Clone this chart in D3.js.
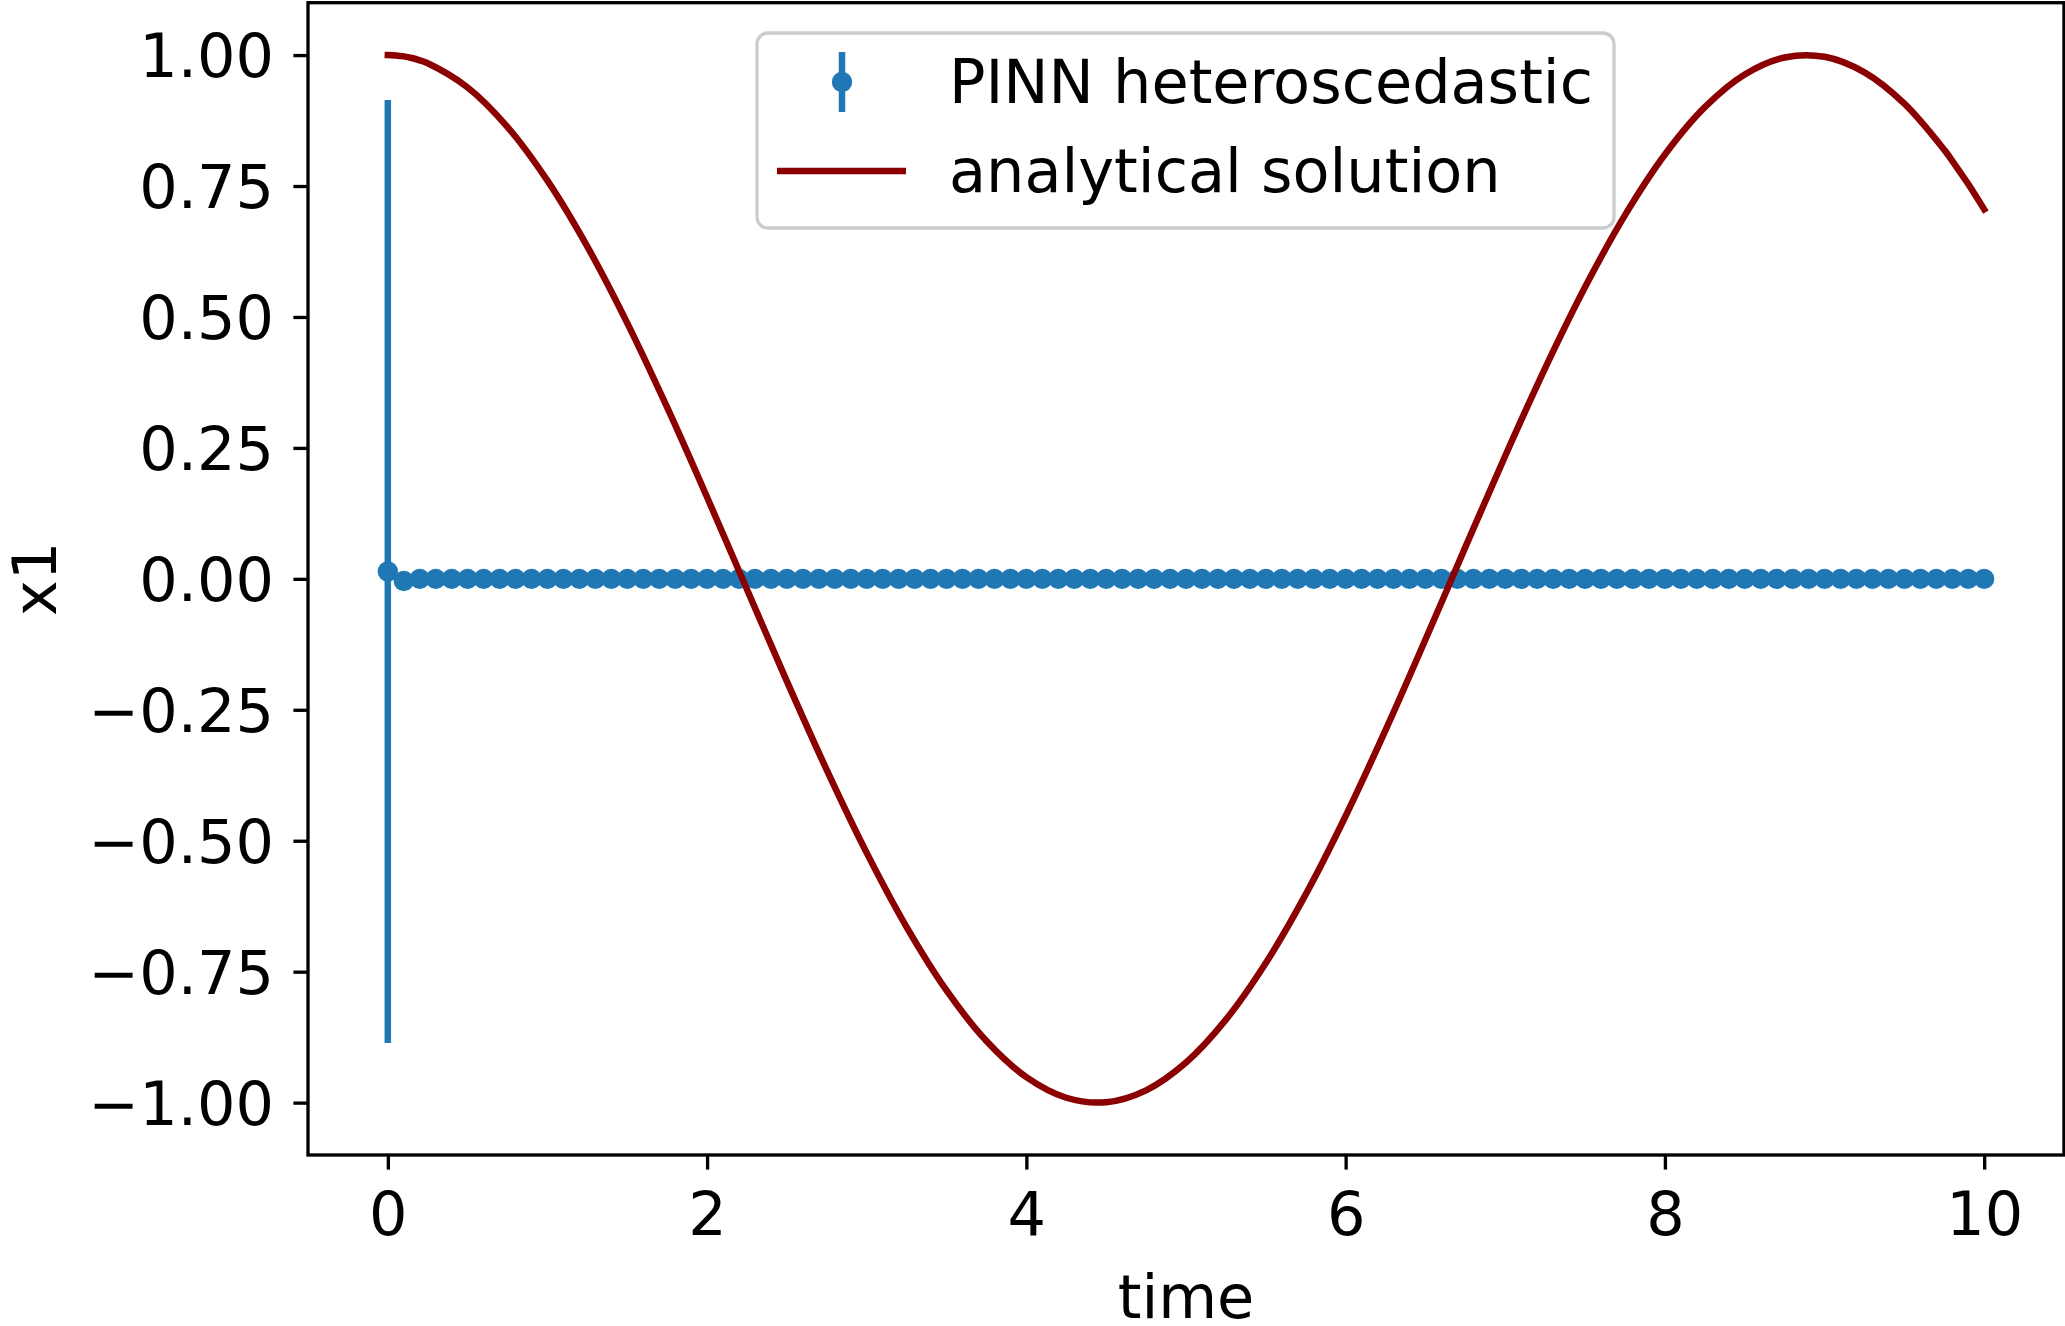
<!DOCTYPE html>
<html>
<head>
<meta charset="utf-8">
<script src="https://cdn.jsdelivr.net/npm/d3@7"></script>
<style>
  html, body { margin: 0; padding: 0; background: #ffffff; }
  svg { display: block; }
  text { font-family: "DejaVu Sans", sans-serif; fill: #000; }
</style>
</head>
<body>
<svg id="chart" width="2065" height="1326"></svg>
<script>
// PINN prediction: sample times, predicted mean and one-sigma error
const pinnTime = [
  0.0, 0.1, 0.2, 0.3, 0.4, 0.5, 0.6, 0.7, 0.8, 0.9,
  1.0, 1.1, 1.2, 1.3, 1.4, 1.5, 1.6, 1.7, 1.8, 1.9,
  2.0, 2.1, 2.2, 2.3, 2.4, 2.5, 2.6, 2.7, 2.8, 2.9,
  3.0, 3.1, 3.2, 3.3, 3.4, 3.5, 3.6, 3.7, 3.8, 3.9,
  4.0, 4.1, 4.2, 4.3, 4.4, 4.5, 4.6, 4.7, 4.8, 4.9,
  5.0, 5.1, 5.2, 5.3, 5.4, 5.5, 5.6, 5.7, 5.8, 5.9,
  6.0, 6.1, 6.2, 6.3, 6.4, 6.5, 6.6, 6.7, 6.8, 6.9,
  7.0, 7.1, 7.2, 7.3, 7.4, 7.5, 7.6, 7.7, 7.8, 7.9,
  8.0, 8.1, 8.2, 8.3, 8.4, 8.5, 8.6, 8.7, 8.8, 8.9,
  9.0, 9.1, 9.2, 9.3, 9.4, 9.5, 9.6, 9.7, 9.8, 9.9,
  10.0
];
const pinnMean = [
  0.014, -0.004, 0.000, 0.000, 0.000, 0.000, 0.000, 0.000, 0.000, 0.000,
  0.000, 0.000, 0.000, 0.000, 0.000, 0.000, 0.000, 0.000, 0.000, 0.000,
  0.000, 0.000, 0.000, 0.000, 0.000, 0.000, 0.000, 0.000, 0.000, 0.000,
  0.000, 0.000, 0.000, 0.000, 0.000, 0.000, 0.000, 0.000, 0.000, 0.000,
  0.000, 0.000, 0.000, 0.000, 0.000, 0.000, 0.000, 0.000, 0.000, 0.000,
  0.000, 0.000, 0.000, 0.000, 0.000, 0.000, 0.000, 0.000, 0.000, 0.000,
  0.000, 0.000, 0.000, 0.000, 0.000, 0.000, 0.000, 0.000, 0.000, 0.000,
  0.000, 0.000, 0.000, 0.000, 0.000, 0.000, 0.000, 0.000, 0.000, 0.000,
  0.000, 0.000, 0.000, 0.000, 0.000, 0.000, 0.000, 0.000, 0.000, 0.000,
  0.000, 0.000, 0.000, 0.000, 0.000, 0.000, 0.000, 0.000, 0.000, 0.000,
  0.000
];
const pinnErr = [
  0.900, 0.006, 0.003, 0.003, 0.003, 0.003, 0.003, 0.003, 0.003, 0.003,
  0.003, 0.003, 0.003, 0.003, 0.003, 0.003, 0.003, 0.003, 0.003, 0.003,
  0.003, 0.003, 0.003, 0.003, 0.003, 0.003, 0.003, 0.003, 0.003, 0.003,
  0.003, 0.003, 0.003, 0.003, 0.003, 0.003, 0.003, 0.003, 0.003, 0.003,
  0.003, 0.003, 0.003, 0.003, 0.003, 0.003, 0.003, 0.003, 0.003, 0.003,
  0.003, 0.003, 0.003, 0.003, 0.003, 0.003, 0.003, 0.003, 0.003, 0.003,
  0.003, 0.003, 0.003, 0.003, 0.003, 0.003, 0.003, 0.003, 0.003, 0.003,
  0.003, 0.003, 0.003, 0.003, 0.003, 0.003, 0.003, 0.003, 0.003, 0.003,
  0.003, 0.003, 0.003, 0.003, 0.003, 0.003, 0.003, 0.003, 0.003, 0.003,
  0.003, 0.003, 0.003, 0.003, 0.003, 0.003, 0.003, 0.003, 0.003, 0.003,
  0.003
];

// Analytical solution of x1 over time
const solTime = [
  0.00, 0.05, 0.10, 0.15, 0.20, 0.25, 0.50, 0.75, 1.00, 1.25,
  1.50, 1.75, 2.00, 2.25, 2.50, 2.75, 3.00, 3.25, 3.50, 3.75,
  4.00, 4.25, 4.50, 4.75, 5.00, 5.25, 5.50, 5.75, 6.00, 6.25,
  6.50, 6.75, 7.00, 7.25, 7.50, 7.75, 8.00, 8.25, 8.50, 8.75,
  9.00, 9.25, 9.50, 9.75, 9.80, 9.90, 10.00
];
const solX1 = [
  1.0000, 0.9994, 0.9975, 0.9944, 0.9900, 0.9844, 0.9382, 0.8626, 0.7602, 0.6342,
  0.4883, 0.3272, 0.1559, -0.0202, -0.1957, -0.3651, -0.5232, -0.6649, -0.7859, -0.8824,
  -0.9514, -0.9907, -0.9992, -0.9765, -0.9234, -0.8415, -0.7334, -0.6024, -0.4527, -0.2888,
  -0.1159, 0.0605, 0.2351, 0.4024, 0.5571, 0.6945, 0.8102, 0.9006, 0.9630, 0.9954,
  0.9967, 0.9670, 0.9072, 0.8190, 0.7982, 0.7537, 0.7054
];

// Axis ticks and labels
const xTicks = [0, 2, 4, 6, 8, 10];
const yTicks = [-1.0, -0.75, -0.5, -0.25, 0.0, 0.25, 0.5, 0.75, 1.0];
const xLabel = "time";
const yLabel = "x1";
const legendLabels = ["PINN heteroscedastic", "analytical solution"];

const blue = "#1f77b4";
const red = "#8b0000";
const fontSize = 60.5;

const svg = d3.select("#chart");
const W = 2065, H = 1326;
const plot = { left: 308, right: 2064, top: 2.7, bottom: 1155 };

const x = d3.scaleLinear().domain([-0.5, 10.5]).range([plot.left, plot.right]);
const y = d3.scaleLinear().domain([-1.1, 1.1]).range([plot.bottom, plot.top]);

svg.append("rect").attr("width", W).attr("height", H).attr("fill", "#fff");

// clip region for plot contents
svg.append("defs").append("clipPath").attr("id", "plotClip")
  .append("rect")
  .attr("x", plot.left).attr("y", plot.top)
  .attr("width", plot.right - plot.left).attr("height", plot.bottom - plot.top);

const content = svg.append("g").attr("clip-path", "url(#plotClip)");

const pinn = pinnTime.map((t, i) => ({ t, m: pinnMean[i], e: pinnErr[i] }));

// error bars
content.append("g").selectAll("line").data(pinn).join("line")
  .attr("x1", d => x(d.t)).attr("x2", d => x(d.t))
  .attr("y1", d => y(d.m - d.e)).attr("y2", d => y(d.m + d.e))
  .attr("stroke", blue).attr("stroke-width", 6.5);

// markers
content.append("g").selectAll("circle").data(pinn).join("circle")
  .attr("cx", d => x(d.t)).attr("cy", d => y(d.m))
  .attr("r", 10.2).attr("fill", blue);

// analytical curve
const sol = solTime.map((t, i) => ({ t, v: solX1[i] }));
content.append("path").datum(sol)
  .attr("d", d3.line().x(d => x(d.t)).y(d => y(d.v)).curve(d3.curveCatmullRom.alpha(0.5)))
  .attr("fill", "none").attr("stroke", red).attr("stroke-width", 6.5)
  .attr("stroke-linecap", "square").attr("stroke-linejoin", "round");

// axes
const xAxis = d3.axisBottom(x).tickValues(xTicks).tickFormat(d3.format("d"))
  .tickSizeInner(14.6).tickSizeOuter(0).tickPadding(22);
const gx = svg.append("g").attr("transform", `translate(0,${plot.bottom})`).call(xAxis);
gx.select(".domain").remove();
gx.selectAll(".tick line").attr("stroke", "#000").attr("stroke-width", 3.33);
gx.selectAll(".tick text").attr("font-size", fontSize).attr("fill", "#000")
  .attr("font-family", "DejaVu Sans").attr("dy", "0.71em");

const yAxis = d3.axisLeft(y).tickValues(yTicks).tickFormat(d3.format(".2f"))
  .tickSizeInner(14.6).tickSizeOuter(0).tickPadding(19.4);
const gy = svg.append("g").attr("transform", `translate(${plot.left},0)`).call(yAxis);
gy.select(".domain").remove();
gy.selectAll(".tick line").attr("stroke", "#000").attr("stroke-width", 3.33);
gy.selectAll(".tick text").attr("font-size", fontSize).attr("fill", "#000")
  .attr("font-family", "DejaVu Sans").attr("dy", "0.36em");

// frame
svg.append("rect")
  .attr("x", plot.left).attr("y", plot.top)
  .attr("width", plot.right - plot.left).attr("height", plot.bottom - plot.top)
  .attr("fill", "none").attr("stroke", "#000").attr("stroke-width", 3.33)
  .attr("stroke-linejoin", "miter");

// axis labels
svg.append("text").attr("x", (plot.left + plot.right) / 2).attr("y", 1318)
  .attr("text-anchor", "middle").attr("font-size", fontSize).text(xLabel);
svg.append("text")
  .attr("transform", `translate(56,${(plot.top + plot.bottom) / 2}) rotate(-90)`)
  .attr("text-anchor", "middle").attr("font-size", fontSize).text(yLabel);

// legend
const lg = svg.append("g");
lg.append("rect")
  .attr("x", 757).attr("y", 33).attr("width", 857).attr("height", 195)
  .attr("rx", 11).attr("ry", 11)
  .attr("fill", "#fff").attr("fill-opacity", 0.8)
  .attr("stroke", "#cccccc").attr("stroke-width", 3.33);

// errorbar entry
lg.append("line").attr("x1", 842).attr("x2", 842).attr("y1", 52).attr("y2", 112)
  .attr("stroke", blue).attr("stroke-width", 6.5);
lg.append("circle").attr("cx", 842).attr("cy", 82).attr("r", 10.2).attr("fill", blue);
lg.append("text").attr("x", 949).attr("y", 103).attr("font-size", fontSize).text(legendLabels[0]);

// line entry
lg.append("line").attr("x1", 777).attr("x2", 906).attr("y1", 171).attr("y2", 171)
  .attr("stroke", red).attr("stroke-width", 6.5);
lg.append("text").attr("x", 949).attr("y", 192).attr("font-size", fontSize).text(legendLabels[1]);
</script>
</body>
</html>
